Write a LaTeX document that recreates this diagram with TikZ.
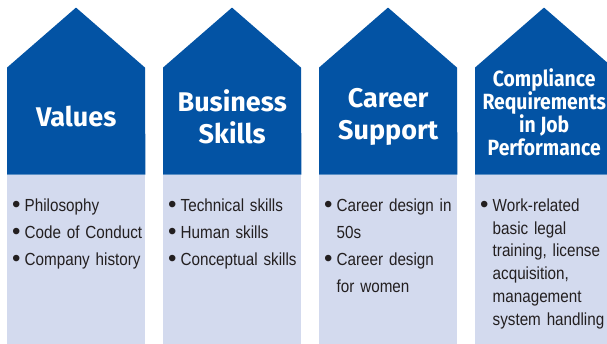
\documentclass[tikz,border=0pt]{standalone}
\usepackage{fontspec}
\setmainfont{Liberation Sans}
\newfontfamily\headfont{Fira Sans}
\newfontfamily\narrowhead[FakeStretch=0.88]{Fira Sans}
\newfontfamily\bodyfont[FakeStretch=0.87]{Liberation Sans}
\usepackage{tikz}
\usetikzlibrary{positioning}
\definecolor{navy}{HTML}{0353A4}
\definecolor{lavender}{HTML}{D3DAEE}
\definecolor{ink}{HTML}{231F20}
\newcommand{\bulletitem}[1]{\hangindent=12.5pt\hangafter=1\noindent
  \hbox to 12.5pt{\raisebox{-1pt}{\fontsize{24}{24}\selectfont\rmfamily\textbullet}\hfil}#1\par}
\tikzset{
  roof/.style={fill=navy, draw=none},
  headtext/.style={text=white, align=center, inner sep=0pt,
    font=\fontsize{27}{32}\selectfont\headfont\bfseries},
  panel/.style={rectangle, fill=lavender, draw=none, inner sep=0pt,
    minimum width=138pt, minimum height=169pt, anchor=south west},
  itemlist/.style={anchor=base west, inner sep=0pt, align=left,
    text width=#1, text=ink, font=\fontsize{17.5}{27}\selectfont\bodyfont},
  itemlist/.default=134pt,
}
\begin{document}
\begin{tikzpicture}[x=1pt, y=1pt]
\clip (0,0) rectangle (607,344);

% Lower panels
\node[panel] (p1) at (7,0) {};
\node[panel] (p2) at (163,0) {};
\node[panel] (p3) at (319,0) {};
\node[panel] (p4) at (475,0) {};

% Arrow-shaped headers on top of each panel
\fill[roof] (p1.north west) -- ++(0,107) -- ++(69,60) -- ++(69,-60) -- (p1.north east) -- cycle;
\fill[roof] (p2.north west) -- ++(0,107) -- ++(69,60) -- ++(69,-60) -- (p2.north east) -- cycle;
\fill[roof] (p3.north west) -- ++(0,107) -- ++(69,60) -- ++(69,-60) -- (p3.north east) -- cycle;
\fill[roof] (p4.north west) -- ++(0,107) -- ++(69,60) -- ++(69,-60) -- (p4.north east) -- cycle;

% Header titles
\node[headtext] (h1) at ([yshift=58pt]p1.north) {Values};
\node[headtext] (h2) at ([yshift=58pt]p2.north) {Business\\Skills};
\node[headtext] (h3) at ([yshift=58pt]p3.north) {Career\\Support};
\node[headtext, font=\fontsize{22}{23}\selectfont\narrowhead\bfseries]
  (h4) at ([yshift=62pt]p4.north) {Compliance\\Requirements\\in Job\\Performance};

% Bullet lists
\node[itemlist] (l1) at ([xshift=5pt, yshift=-37pt]p1.north west)
  {\bulletitem{Philosophy}\bulletitem{Code of Conduct}\bulletitem{Company history}};
\node[itemlist] (l2) at ([xshift=5pt, yshift=-37pt]p2.north west)
  {\bulletitem{Technical skills}\bulletitem{Human skills}\bulletitem{Conceptual skills}};
\node[itemlist] (l3) at ([xshift=5pt, yshift=-37pt]p3.north west)
  {\bulletitem{Career design in\newline 50s}\bulletitem{Career design\newline for women}};
\node[itemlist, font=\fontsize{17.5}{22.7}\selectfont\bodyfont]
  (l4) at ([xshift=5pt, yshift=-37pt]p4.north west)
  {\bulletitem{Work-related\newline basic legal\newline training, license\newline
   acquisition,\newline management\newline system handling}};

\end{tikzpicture}
\end{document}
